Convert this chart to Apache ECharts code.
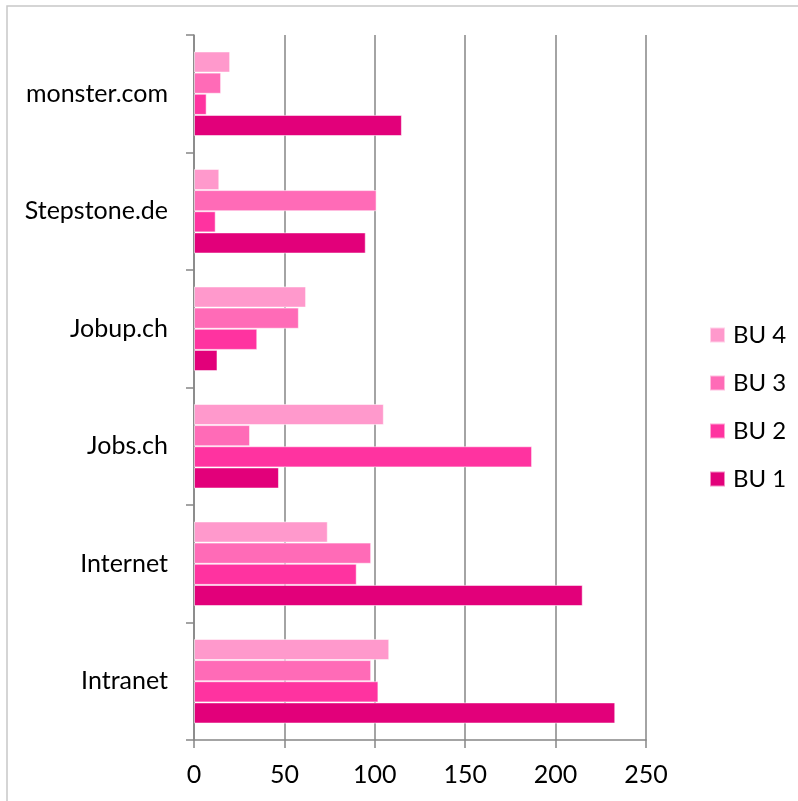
<!DOCTYPE html>
<html>
<head>
<meta charset="utf-8">
<script src="https://cdn.jsdelivr.net/npm/echarts@6/dist/echarts.min.js"></script>
<style>
html,body{margin:0;padding:0;background:#fff;}
#chart{width:798px;height:801px;}
</style>
</head>
<body>
<div id="chart"></div>
<script>
const categories = ['Intranet', 'Internet', 'Jobs.ch', 'Jobup.ch', 'Stepstone.de', 'monster.com'];
const bu1 = [233, 215, 47, 13, 95, 115];
const bu2 = [102, 90, 187, 35, 12, 7];
const bu3 = [98, 98, 31, 58, 101, 15];
const bu4 = [108, 74, 105, 62, 14, 20];
const seriesNames = ['BU 4', 'BU 3', 'BU 2', 'BU 1'];
const xTicks = [0, 50, 100, 150, 200, 250];

const colors = ['#FF99CC', '#FF6BB7', '#FF33A0', '#E2007A'];
const seriesData = [bu4, bu3, bu2, bu1];
const FONT = 'Lato';

const chart = echarts.init(document.getElementById('chart'), null, {renderer: 'canvas'});
chart.setOption({
  animation: false,
  backgroundColor: '#fff',
  graphic: [{
    type: 'rect',
    shape: {x: 7, y: 6, width: 820, height: 820},
    style: {fill: 'none', stroke: '#c8c8c8', lineWidth: 1.5},
    silent: true
  }],
  grid: {left: 194, right: 152, top: 35, bottom: 61, containLabel: false},
  legend: {
    orient: 'vertical',
    left: 704,
    top: 318,
    itemWidth: 15,
    itemHeight: 15,
    itemGap: 24,
    icon: 'rect',
    data: ['BU 4', 'BU 3', 'BU 2', 'BU 1'],
    textStyle: {fontFamily: FONT, fontSize: 24, color: '#000', padding: [0, 0, 0, 3]}
  },
  xAxis: {
    type: 'value',
    min: xTicks[0],
    max: xTicks[xTicks.length - 1],
    interval: 50,
    axisLine: {show: true, lineStyle: {color: '#868686', width: 1.5}},
    axisTick: {show: true, length: 8, lineStyle: {color: '#868686', width: 1.5}},
    axisLabel: {fontFamily: FONT, fontSize: 25, color: '#000', margin: 22},
    splitLine: {show: true, lineStyle: {color: '#868686', width: 1.5}}
  },
  yAxis: {
    type: 'category',
    data: categories,
    axisLine: {show: true, lineStyle: {color: '#868686', width: 1.5}},
    axisTick: {show: true, length: 8, lineStyle: {color: '#868686', width: 1.5}},
    axisLabel: {fontFamily: FONT, fontSize: 25, color: '#000', margin: 26},
    splitLine: {show: false}
  },
  series: seriesNames.map((name, i) => ({
    name: name,
    type: 'bar',
    data: seriesData[i],
    barGap: '0%',
    barCategoryGap: '28%',
    itemStyle: {color: colors[i], borderColor: 'rgba(255,255,255,0.55)', borderWidth: 1}
  }))
});
</script>
</body>
</html>
